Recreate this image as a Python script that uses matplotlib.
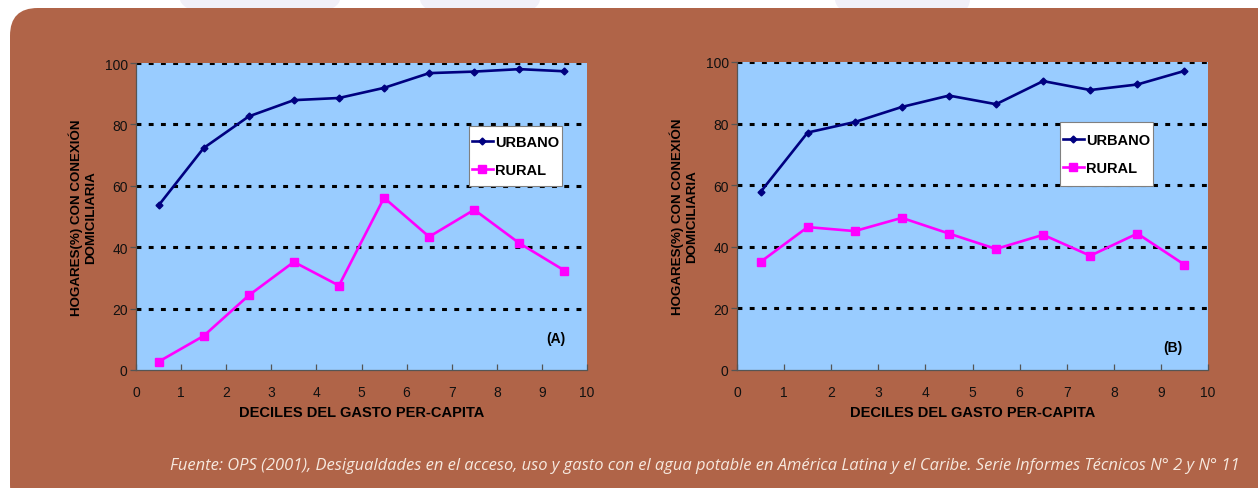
import matplotlib.pyplot as plt
from matplotlib.patches import FancyBboxPatch, Ellipse, Rectangle

plt.rcParams['font.family'] = ['Liberation Sans', 'DejaVu Sans']

deciles = [0.5, 1.5, 2.5, 3.5, 4.5, 5.5, 6.5, 7.5, 8.5, 9.5]

urbano_a = [53.6, 72.3, 82.6, 87.9, 88.6, 91.9, 96.7, 97.2, 98.0, 97.3]
rural_a = [2.7, 11.1, 24.3, 35.2, 27.5, 56.1, 43.4, 52.2, 41.3, 32.4]

urbano_b = [57.8, 77.1, 80.5, 85.4, 89.1, 86.3, 93.8, 90.9, 92.7, 97.1]
rural_b = [35.1, 46.4, 45.1, 49.4, 44.3, 39.3, 43.9, 37.1, 44.3, 34.2]

panel_tags = ['(A)', '(B)']
ylabel = 'HOGARES(%) CON CONEXIÓN\nDOMICILIARIA'
xlabel = 'DECILES DEL GASTO PER-CAPITA'
fuente = ('Fuente: OPS (2001), Desigualdades en el acceso, uso y gasto con el agua potable '
          'en América Latina y el Caribe. Serie Informes Técnicos N° 2 y N° 11')

W, H = 1258, 489
fig = plt.figure(figsize=(W / 100, H / 100), dpi=100)
fig.patch.set_facecolor('white')

# faint watermark shapes along the top edge
for cx, w in [(260, 160), (480, 120), (880, 90), (940, 60)]:
    fig.patches.append(Ellipse((cx / W, 1.0), w / W, 44 / H, transform=fig.transFigure,
                               facecolor='#f1f0f8', edgecolor='none', zorder=-3))

# brown rounded panel
fig.patches.append(FancyBboxPatch((10 / W, -0.05), 1.2, (H - 9) / H + 0.05,
                                  boxstyle='round,pad=0,rounding_size=0.022',
                                  transform=fig.transFigure, facecolor='#b06448',
                                  edgecolor='none', zorder=-2,
                                  mutation_aspect=W / H))


def draw_panel(rect, urb, rur, tag, leg_box, tag_pos):
    ax = fig.add_axes(rect)
    ax.set_facecolor('#99ccff')
    ax.plot(deciles, urb, color='#000080', marker='D', markersize=3.5, lw=1.9,
            label='URBANO', zorder=3)
    ax.plot(deciles, rur, color='#ff00ff', marker='s', markersize=5.5, lw=1.9,
            label='RURAL', zorder=3)
    ax.set_xlim(0, 10)
    ax.set_ylim(0, 100)
    ax.set_xticks(range(11))
    ax.set_yticks(range(0, 101, 20))
    for y in range(20, 101, 20):
        ax.axhline(y, color='black', lw=2.2, ls=(0, (1.6, 2.4)), zorder=2)
    for s in ['top', 'right']:
        ax.spines[s].set_visible(False)
    for s in ['left', 'bottom']:
        ax.spines[s].set_color('#555555')
        ax.spines[s].set_linewidth(0.9)
    ax.tick_params(axis='y', direction='out', length=4, width=0.9, color='#555555',
                   labelsize=10, labelcolor='#111111', pad=2)
    ax.tick_params(axis='x', direction='in', length=4, width=0.9, color='#555555',
                   labelsize=10, labelcolor='#111111', pad=11)
    ax.set_xlabel(xlabel, fontsize=10.5, fontweight='bold', labelpad=4)
    ax.set_ylabel(ylabel, fontsize=9.6, fontweight='bold', labelpad=5,
                  linespacing=1.3)

    # legend box drawn by hand so padding can differ per side
    bx, by, bw, bh = leg_box
    ax.add_patch(Rectangle((bx, by), bw, bh, transform=ax.transAxes,
                           facecolor='white', edgecolor='#808080', lw=0.8,
                           zorder=4))
    leg = ax.legend(loc='center', bbox_to_anchor=(bx + bw / 2, by + bh / 2),
                    frameon=False, prop={'weight': 'bold', 'size': 10.5},
                    handlelength=1.45, handletextpad=0.15, labelspacing=0.95,
                    borderpad=0, borderaxespad=0)
    leg.set_zorder(5)
    ax.text(tag_pos[0], tag_pos[1], tag, transform=ax.transAxes, fontsize=10,
            fontweight='bold', ha='center', va='center')
    return ax


def axes_rect(x0, x1, y0, y1):
    return [x0 / W, 1 - y1 / H, (x1 - x0) / W, (y1 - y0) / H]


def legend_box(lx0, lx1, ly0, ly1, x0, x1, y0, y1):
    return ((lx0 - x0) / (x1 - x0), (y1 - ly1) / (y1 - y0),
            (lx1 - lx0) / (x1 - x0), (ly1 - ly0) / (y1 - y0))


draw_panel(axes_rect(136, 587, 64, 371), urbano_a, rural_a, panel_tags[0],
           legend_box(469, 562, 127, 187, 136, 587, 64, 371), (0.93, 0.105))
draw_panel(axes_rect(737, 1208, 63, 371), urbano_b, rural_b, panel_tags[1],
           legend_box(1060, 1153, 123, 187, 737, 1208, 63, 371), (0.925, 0.075))

fig.text(1240 / W, 1 - 466 / H, fuente, ha='right', va='center', fontsize=11.85,
         style='italic', color='#f6e8de', family=['Open Sans', 'DejaVu Sans'])

fig.savefig('out.png', dpi=100, facecolor=fig.get_facecolor())
